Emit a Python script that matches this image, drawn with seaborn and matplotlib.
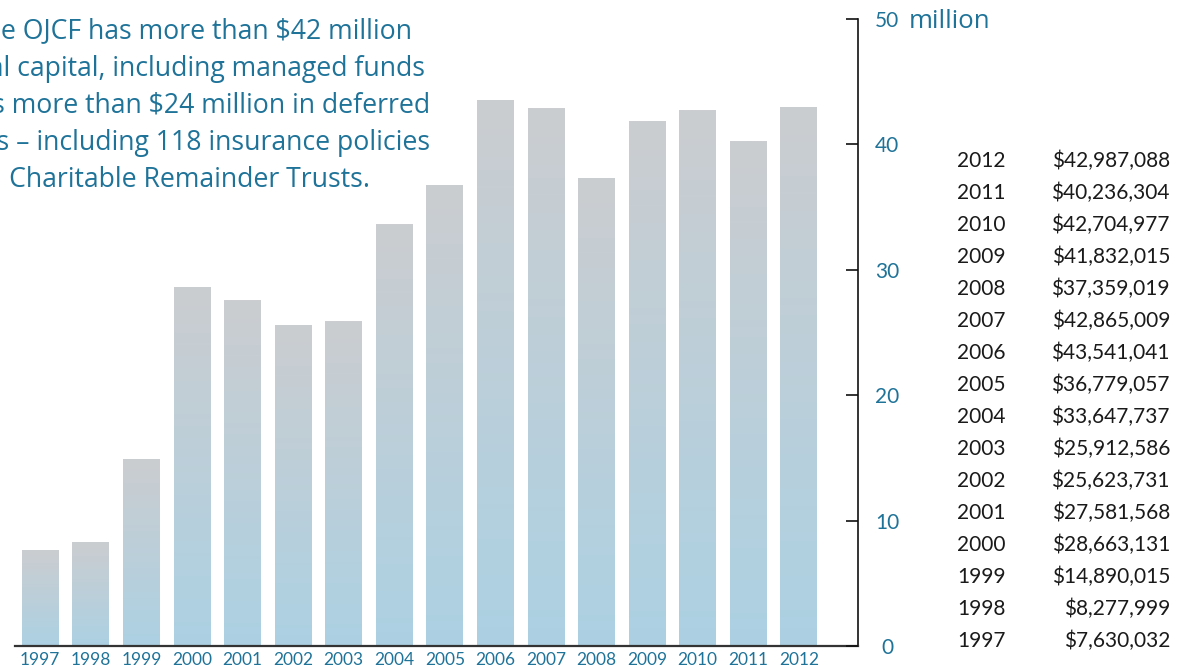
import numpy as np
import pandas as pd
import matplotlib
matplotlib.use("Agg")
import matplotlib.pyplot as plt
import seaborn as sns
from matplotlib.colors import LinearSegmentedColormap

years = ["1997", "1998", "1999", "2000", "2001", "2002", "2003", "2004",
         "2005", "2006", "2007", "2008", "2009", "2010", "2011", "2012"]
values = [7630032, 8277999, 14890015, 28663131, 27581568, 25623731, 25912586,
          33647737, 36779057, 43541041, 42865009, 37359019, 41832015, 42704977,
          40236304, 42987088]
value_labels = ["$7,630,032", "$8,277,999", "$14,890,015", "$28,663,131",
                "$27,581,568", "$25,623,731", "$25,912,586", "$33,647,737",
                "$36,779,057", "$43,541,041", "$42,865,009", "$37,359,019",
                "$41,832,015", "$42,704,977", "$40,236,304", "$42,987,088"]
y_ticks = [0, 10, 20, 30, 40, 50]
text_lines = ["The OJCF has more than $42 million",
              "in total capital, including managed funds",
              "and has more than $24 million in deferred",
              "gifts \u2013 including 118 insurance policies",
              "and Charitable Remainder Trusts."]

sns.set_style("white")
plt.rcParams['font.family'] = ['Lato', 'DejaVu Sans']

TEAL = "#1f7399"
TOP = "#cbcdd0"
BOT = "#acd1e3"

df = pd.DataFrame({"year": years, "millions": [v / 1e6 for v in values]})

W, H = 1192, 666
fig = plt.figure(figsize=(W / 100, H / 100), dpi=100)
ax = fig.add_axes([15 / W, 20 / H, (858 - 15) / W, (646 - 19) / H])

sns.barplot(data=df, x="year", y="millions", ax=ax, color=BOT, width=0.73,
            saturation=1, edgecolor="none")

cmap = LinearSegmentedColormap.from_list("g", [BOT, TOP])
grad = np.linspace(0, 1, 256).reshape(-1, 1)
for p in ax.patches:
    x0, w, h = p.get_x(), p.get_width(), p.get_height()
    im = ax.imshow(grad, cmap=cmap, origin="lower", aspect="auto",
                   extent=[x0, x0 + w, 0, h], zorder=2, interpolation="bilinear")
    im.set_clip_path(p)
    p.set_facecolor("none")

ax.set_xlim(-0.5, 16.17)
ax.set_ylim(0, 50)
ax.set_xlabel("")
ax.set_ylabel("")

for s in ["top", "left"]:
    ax.spines[s].set_visible(False)
ax.spines["bottom"].set_color("#333333")
ax.spines["bottom"].set_linewidth(1.6)
ax.spines["right"].set_color("#111111")
ax.spines["right"].set_linewidth(1.2)
ax.spines["bottom"].set_zorder(5)

# y axis on the right
ax.yaxis.tick_right()
ax.set_yticks(y_ticks)
ax.set_yticklabels([str(t) for t in y_ticks])
ax.tick_params(axis="y", direction="out", length=0, pad=21, labelsize=15,
               labelcolor=TEAL)
for lab in ax.get_yticklabels():
    lab.set_horizontalalignment("center")
# inward ticks on right spine (pointing left)
for t in y_ticks:
    ax.plot([15.93, 16.17], [t, t], color="#111111", lw=1.2, clip_on=False,
            zorder=6, solid_capstyle="butt")

# x ticks: labels at centers, tick marks between bars
ax.set_xticks(range(len(years)))
ax.set_xticklabels(years)
ax.tick_params(axis="x", length=0, pad=4.5, labelsize=12.5, labelcolor=TEAL)
ax.set_xticks([i + 0.5 for i in range(len(years))], minor=True)
ax.tick_params(axis="x", which="minor", direction="in", length=11, width=1.5,
               color="#222222")

fig.text(909 / W, 1 - 22 / H, "million", fontsize=18.5, color=TEAL,
         va="center", ha="left", family=["Open Sans", "DejaVu Sans"])

# table
for i, (yr, vl) in enumerate(zip(years, value_labels)):
    yc = 641 - 32 * i
    fig.text(957 / W, 1 - yc / H, yr, fontsize=15, color="#1a1a1a",
             va="center", ha="left")
    fig.text(1170 / W, 1 - yc / H, vl, fontsize=15, color="#1a1a1a",
             va="center", ha="right")

# headline text (cut off on the left, as in the original)
ends = [412, 425, 430, 430, 370]
baselines = [38, 76, 113, 150, 187]
for line, xe, yb in zip(text_lines, ends, baselines):
    fig.text(xe / W, 1 - yb / H, line, fontsize=19.2, color=TEAL,
             va="baseline", ha="right", family=["Open Sans", "DejaVu Sans"])

fig.savefig("out.png", dpi=100)
